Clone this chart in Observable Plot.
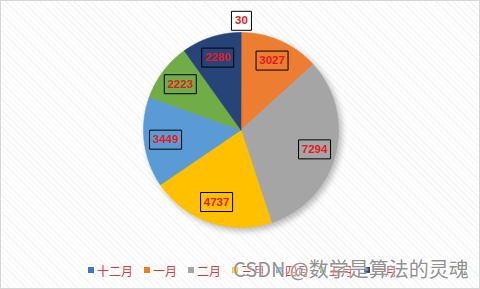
<!DOCTYPE html>
<html><head><meta charset="utf-8">
<script src="https://cdn.jsdelivr.net/npm/d3@7"></script>
<script src="https://cdn.jsdelivr.net/npm/@observablehq/plot@0.6"></script>
<style>
html,body{margin:0;padding:0;background:#fff;}
#wrap{position:relative;width:480px;height:289px;overflow:hidden;
  background:repeating-linear-gradient(45deg,#ffffff 0 3px,#f5f5f5 3px 4px);}
#border{position:absolute;left:0;top:0;width:480px;height:289px;box-sizing:border-box;border:1px solid #d6d6d6;pointer-events:none;}
#chart{position:absolute;left:0;top:0;}
#legend{position:absolute;left:88px;top:261px;display:flex;align-items:center;height:18px;
  font-family:"Noto Sans CJK SC";font-size:12px;color:#d23c3c;white-space:nowrap;}
#legend .item{display:flex;align-items:center;margin-right:11px;}
#legend .sw{width:6px;height:6px;margin-right:3px;}
#wm{position:absolute;left:233px;top:255px;font-family:"Noto Sans CJK SC";font-size:20px;line-height:28px;
  color:rgba(130,130,130,0.88);white-space:nowrap;text-shadow:0 0 2px #fff,0 0 2px #fff;}
</style></head>
<body>
<div id="wrap"><div id="chart"></div><div id="legend"></div><div id="wm">CSDN @数学是算法的灵魂</div><div id="border"></div></div>
<script>
const months = ["十二月","一月","二月","三月","四月","五月","六月"];
const values = [30,3027,7294,4737,3449,2223,2280];
const colors = ["#4472C4","#ED7D31","#A5A5A5","#FFC000","#5B9BD5","#70AD47","#264478"];

const total = d3.sum(values);
const arcs = d3.pie().sort(null).value(d => d)(values);
const slices = [];
const labels = [];
arcs.forEach((p, i) => {
  const m = months[i];
  slices.push({month: m, x: 0, y: 0});
  const n = Math.max(2, Math.ceil((p.endAngle - p.startAngle) / (Math.PI / 360)));
  for (let k = 0; k <= n; k++) {
    const a = p.startAngle + (p.endAngle - p.startAngle) * k / n;
    slices.push({month: m, x: Math.sin(a), y: Math.cos(a)});
  }
  slices.push({month: m, x: 0, y: 0});
  const mid = (p.startAngle + p.endAngle) / 2;
  const outside = values[i] / total < 0.01;
  const r = outside ? 1.12 : 0.78;
  labels.push({month: m, value: values[i], outside, x: r * Math.sin(mid), y: r * Math.cos(mid)});
});

const box = (w, h) => ({draw(ctx) { ctx.rect(-w / 2, -h / 2, w, h); }});

const R = 97.5, cx = 240.5, cy = 129.5;
const plot = Plot.plot({
  width: 480, height: 289,
  margin: 0,
  style: {background: "transparent", overflow: "visible"},
  x: {domain: [-cx / R, (480 - cx) / R], range: [0, 480], axis: null},
  y: {domain: [-(289 - cy) / R, cy / R], range: [289, 0], axis: null},
  color: {domain: months, range: colors},
  marks: [
    Plot.line(slices, {x: "x", y: "y", z: "month", fill: "month", stroke: "month", strokeWidth: 0.6, curve: "linear"}),
    Plot.dot(labels.filter(d => !d.outside), {x: "x", y: "y", symbol: box(32, 19), r: 5, fill: "none", stroke: "#000", strokeWidth: 1}),
    Plot.dot(labels.filter(d => d.outside), {x: "x", y: "y", symbol: box(20, 19), r: 5, fill: "#fff", stroke: "#000", strokeWidth: 1}),
    Plot.text(labels, {x: "x", y: "y", text: d => String(d.value), fill: "#e41a22", fontWeight: "bold", fontSize: 11.5,
      fontFamily: "'Liberation Sans',Arial,sans-serif"})
  ]
});
d3.select(plot).select('g[aria-label="line"]').style("filter", "drop-shadow(3px 3px 3px rgba(0,0,0,0.28))");
document.getElementById("chart").appendChild(plot);

const legend = document.getElementById("legend");
months.forEach((m, i) => {
  const it = document.createElement("div"); it.className = "item";
  const sw = document.createElement("div"); sw.className = "sw"; sw.style.background = colors[i];
  const tx = document.createElement("span"); tx.textContent = m;
  it.appendChild(sw); it.appendChild(tx); legend.appendChild(it);
});
</script>
</body></html>
